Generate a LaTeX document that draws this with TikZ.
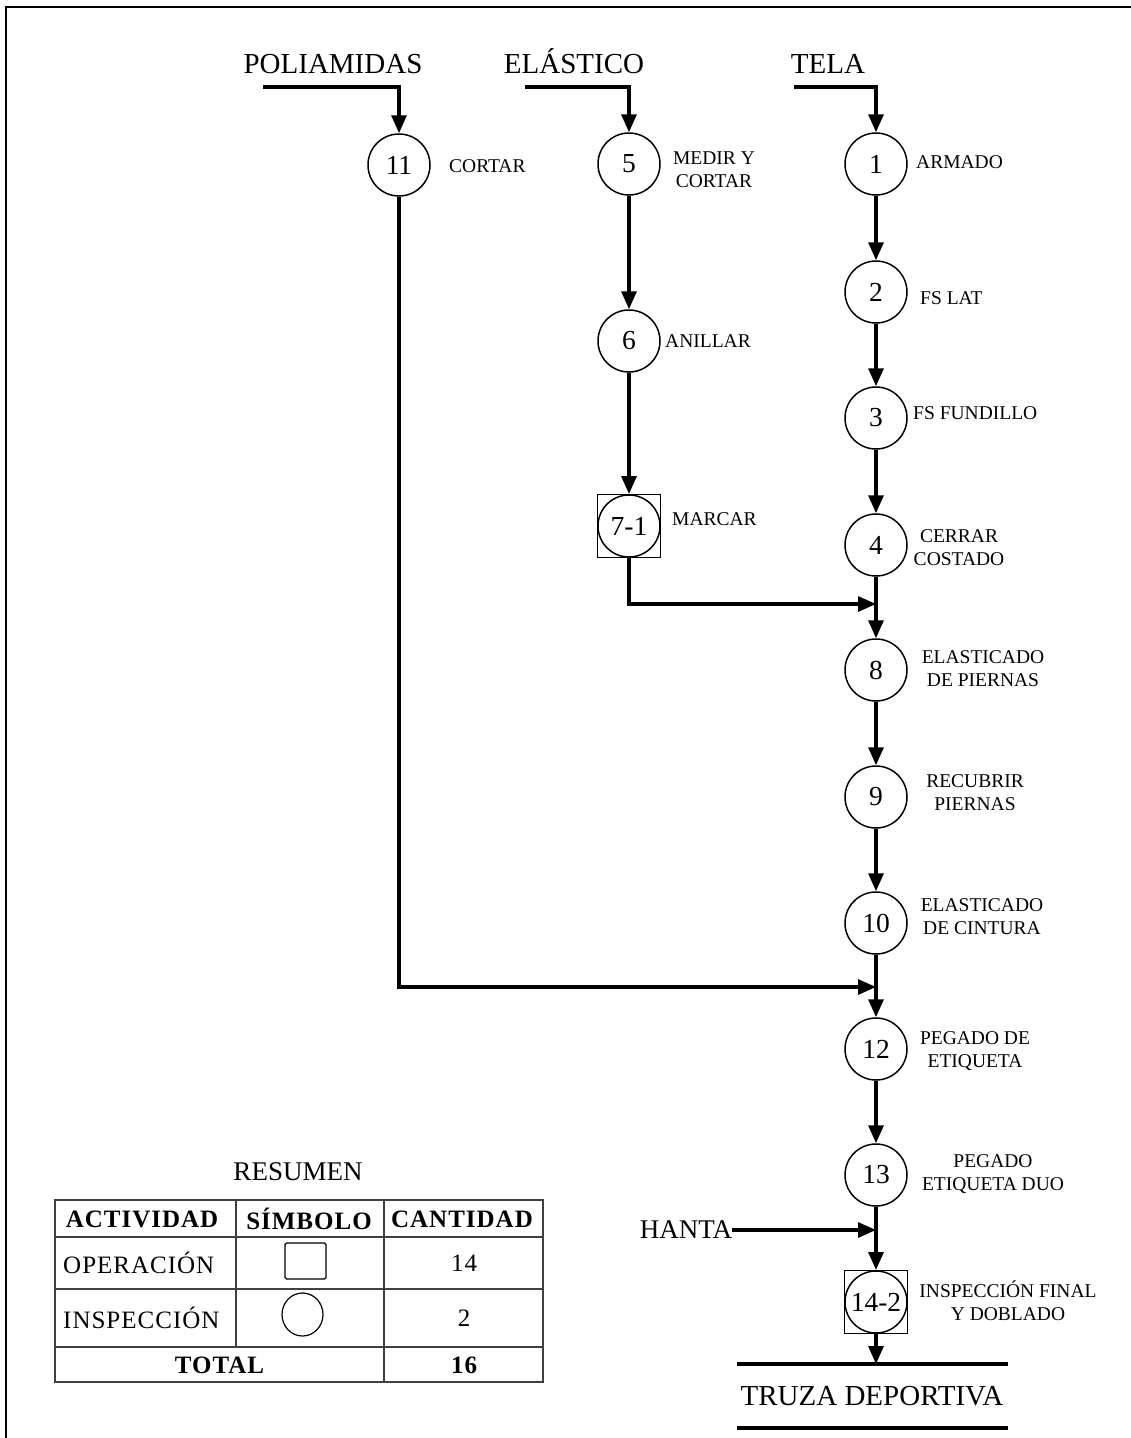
\documentclass[tikz,border=0pt]{standalone}
\usepackage{fontspec}
\setmainfont{Liberation Serif}
\newfontfamily\tabfont[LetterSpace=4]{Liberation Serif}
\usetikzlibrary{arrows.meta,calc,shapes.geometric}
\begin{document}
\begin{tikzpicture}[x=1pt,y=-1pt,
  opc/.style={circle, draw, line width=1.5pt, minimum size=62pt, inner sep=0pt, fill=white,
    font=\fontsize{27.5}{29}\selectfont},
  sqbox/.style={rectangle, draw, line width=1pt, minimum size=63pt, inner sep=0pt},
  lbl/.style={font=\fontsize{19.5}{23}\selectfont, align=center, inner sep=0pt},
  big/.style={font=\fontsize{29}{32}\selectfont, inner sep=0pt},
  flow/.style={line width=3.2pt, -{Triangle[length=18pt,width=15pt]}},
  thk/.style={line width=3.2pt},
  tline/.style={line width=1.3pt, draw=black!75},
  tcell/.style={font=\tabfont\fontsize{25}{27}\selectfont, inner sep=0pt},
  tbold/.style={font=\tabfont\bfseries\fontsize{25}{27}\selectfont, inner sep=0pt}
]
\useasboundingbox (0,0) rectangle (1131,1438);
% frame
\draw[line width=2.5pt] (5,7) -- (1131,7);
\draw[line width=2.2pt] (6,7) -- (6,1438);

% raw materials
\node[big, anchor=base] (poli) at (333,73) {POLIAMIDAS};
\node[big, anchor=base] (elas) at (574,73) {ELÁSTICO};
\node[big, anchor=base] (tela) at (828,73) {TELA};
\coordinate (ip) at (263,87);
\coordinate (ie) at (525,87);
\coordinate (it) at (794,87);

% squares for combined activities
\node[sqbox] (s71) at (629,526) {};
\node[sqbox] (s142) at (876,1302) {};

% circles
\node[opc] (n11) at (399,165) {11};
\node[opc] (n5) at (629,164) {5};
\node[opc] (n6) at (629,341) {6};
\node[opc] (n71) at (629,526) {7-1};
\node[opc] (n1) at (876,164) {1};
\node[opc] (n2) at (876,292) {2};
\node[opc] (n3) at (876,418) {3};
\node[opc] (n4) at (876,545) {4};
\node[opc] (n8) at (876,670) {8};
\node[opc] (n9) at (876,797) {9};
\node[opc] (n10) at (876,923) {10};
\node[opc] (n12) at (876,1049) {12};
\node[opc] (n13) at (876,1175) {13};
\node[opc] (n142) at (876,1302) {14-2};

% labels
\node[lbl, anchor=west] (l11) at (449,166) {CORTAR};
\node[lbl] (l5) at (714,170) {MEDIR Y\\CORTAR};
\node[lbl, anchor=west] (l6) at (665,341) {ANILLAR};
\node[lbl, anchor=west] (l71) at (672,519) {MARCAR};
\node[lbl, anchor=west] (l1) at (916,162) {ARMADO};
\node[lbl, anchor=west] (l2) at (920,298) {FS LAT};
\node[lbl, anchor=west] (l3) at (913,413) {FS FUNDILLO};
\node[lbl] (l4) at (959,548) {CERRAR\\COSTADO};
\node[lbl] (l8) at (983,669) {ELASTICADO\\DE PIERNAS};
\node[lbl] (l9) at (975,793) {RECUBRIR\\PIERNAS};
\node[lbl] (l10) at (982,917) {ELASTICADO\\DE CINTURA};
\node[lbl] (l12) at (975,1051) {PEGADO DE\\ETIQUETA};
\node[lbl] (l13) at (993,1174) {PEGADO\\ETIQUETA DUO};
\node[lbl] (l142) at (1008,1301) {INSPECCIÓN FINAL\\Y DOBLADO};

% connectors
\draw[flow] (ip) -| (n11.north);
\draw[flow] (ie) -| (n5.north);
\draw[flow] (it) -| (n1.north);
\draw[flow] (n5) -- (n6);
\draw[flow] (n6) -- (s71.north);
\draw[flow] (n1) -- (n2);
\draw[flow] (n2) -- (n3);
\draw[flow] (n3) -- (n4);
\draw[flow] (n4) -- (n8);
\draw[flow] (n8) -- (n9);
\draw[flow] (n9) -- (n10);
\draw[flow] (n10) -- (n12);
\draw[flow] (n12) -- (n13);
\draw[flow] (n13) -- (s142.north);
\coordinate (m7) at (876,604);
\coordinate (m11) at (876,987);
\coordinate (mh) at (876,1230);
\draw[flow] (s71.south) |- (m7);
\draw[flow] (n11.south) |- (m11);
\node[font=\fontsize{27}{29}\selectfont, inner sep=0pt] (hanta) at (686,1230) {HANTA};
\draw[flow] (hanta.east) -- (mh);

% product
\coordinate (pa) at (737,1364);
\coordinate (pb) at (1008,1364);
\coordinate (pc) at (737,1428);
\coordinate (pd) at (1008,1428);
\coordinate (pin) at (876,1364);
\draw[thk] (pa) -- (pb);
\draw[thk] (pc) -- (pd);
\node[big] (prod) at (872,1396) {TRUZA DEPORTIVA};
\draw[flow] (s142.south) -- (pin);

% summary table
\node[font=\fontsize{27}{29}\selectfont, inner sep=0pt] (res) at (298,1172) {RESUMEN};
\draw[tline] (55,1200) rectangle (543,1382);
\draw[tline] (55,1237) -- (543,1237);
\draw[tline] (55,1289) -- (543,1289);
\draw[tline] (55,1347) -- (543,1347);
\draw[tline] (236,1200) -- (236,1347);
\draw[tline] (384,1200) -- (384,1382);
\node[tbold] (h1) at (142,1219) {ACTIVIDAD};
\node[tbold] (h2) at (309,1219) {SÍMBOLO};
\node[tbold] (h3) at (462,1219) {CANTIDAD};
\node[tcell, anchor=west] (r1) at (63,1263) {OPERACIÓN};
\node[tcell, anchor=west] (r2) at (63,1318) {INSPECCIÓN};
\node[draw, line width=1.3pt, rounded corners=1.5pt, minimum width=41pt, minimum height=36pt, inner sep=0pt] (sym1) at (305.5,1261) {};
\node[draw, ellipse, line width=1.2pt, minimum width=41pt, minimum height=43pt, inner sep=0pt] (sym2) at (302.5,1314.5) {};
\node[tcell] (q1) at (464,1263) {14};
\node[tcell] (q2) at (464,1318) {2};
\node[tbold] (tt) at (219.5,1365) {TOTAL};
\node[tbold] (qt) at (464,1365) {16};
\end{tikzpicture}
\end{document}
